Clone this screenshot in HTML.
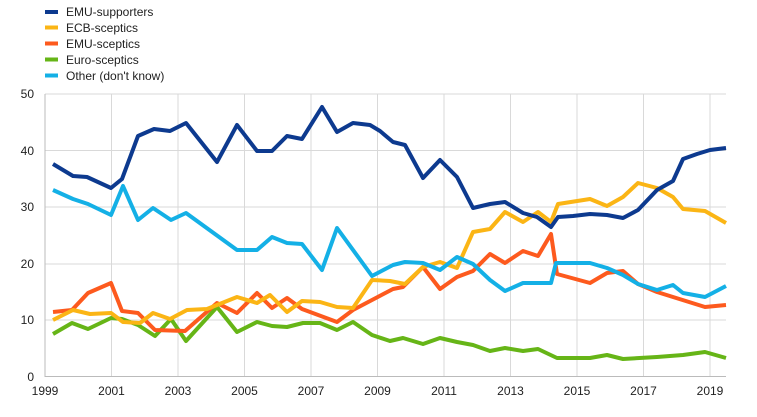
<!DOCTYPE html>
<html><head><meta charset="utf-8"><style>
html,body{margin:0;padding:0;background:#fff;width:757px;height:417px;overflow:hidden}
svg{display:block;font-family:"Liberation Sans",Arial,sans-serif}
</style></head><body>
<svg width="757" height="417" viewBox="0 0 757 417">
<g stroke="#d9d9d9" stroke-width="1">
<line x1="45" y1="94" x2="726" y2="94"/><line x1="45" y1="150.5" x2="726" y2="150.5"/><line x1="45" y1="207" x2="726" y2="207"/><line x1="45" y1="264" x2="726" y2="264"/><line x1="45" y1="320" x2="726" y2="320"/>
<line x1="111.5" y1="94" x2="111.5" y2="376"/><line x1="178" y1="94" x2="178" y2="376"/><line x1="244.5" y1="94" x2="244.5" y2="376"/><line x1="311" y1="94" x2="311" y2="376"/><line x1="377.5" y1="94" x2="377.5" y2="376"/><line x1="444" y1="94" x2="444" y2="376"/><line x1="510.5" y1="94" x2="510.5" y2="376"/><line x1="577" y1="94" x2="577" y2="376"/><line x1="643.5" y1="94" x2="643.5" y2="376"/><line x1="710" y1="94" x2="710" y2="376"/>
</g>
<line x1="45" y1="94" x2="45" y2="377" stroke="#bbb"/><line x1="45" y1="376.5" x2="726" y2="376.5" stroke="#bbb"/>
<g font-size="12" fill="#222" text-anchor="end">
<text x="34" y="98">50</text><text x="34" y="155">40</text><text x="34" y="211">30</text><text x="34" y="268">20</text><text x="34" y="324">10</text><text x="34" y="381">0</text>
</g>
<g font-size="12" fill="#222" text-anchor="middle">
<text x="45" y="395">1999</text><text x="111.5" y="395">2001</text><text x="178" y="395">2003</text><text x="244.5" y="395">2005</text><text x="311" y="395">2007</text><text x="377.5" y="395">2009</text><text x="444" y="395">2011</text><text x="510.5" y="395">2013</text><text x="577" y="395">2015</text><text x="643.5" y="395">2017</text><text x="710" y="395">2019</text>
</g>
<g fill="none" stroke-width="4" stroke-linejoin="round">
<polyline stroke="#66b517" points="53,334 72,323 88,329 111,318 122,319 138,325 155,336 171,319 186,341 217,307 237,332 257,322 272,326 287,327 303,323 320,323 337,330 353,322 372,335 390,341 403,338 423,344 440,338 457,342 473,345 490,351 505,348 523,351 538,349 557,358 590,358 607,355 623,359 657,357 683,355 705,352 726,358"/>
<polyline stroke="#fd5a1e" points="53,312 72,310 88,293 111,283 122,311 138,313 155,330 185,331 217,303 237,313 257,293 272,308 287,298 302,309 337,322 353,310 393,289 403,287 423,267 440,289 457,277 473,271 490,254 505,263 523,251 538,256 551,234 557,274 590,283 607,273 623,271 638,284 657,292 673,297 705,307 726,305"/>
<polyline stroke="#fbb515" points="53,320 73,310 90,314 111,313 123,322 140,323 153,313 170,319 187,310 207,309 217,305 237,297 257,303 270,295 287,312 302,301 320,302 337,307 353,308 372,280 390,281 405,284 423,267 440,262 457,268 473,232 490,229 505,212 523,222 538,212 551,222 558,204 590,199 607,206 623,197 638,183 657,188 673,197 683,209 705,211 726,223"/>
<polyline stroke="#14b0e6" points="53,190 73,199 88,204 111,215 123,186 138,220 153,208 171,220 186,213 237,250 257,250 272,237 287,243 302,244 322,270 337,228 372,276 393,265 405,262 423,263 440,270 457,257 473,264 490,280 505,291 523,283 537,283 551,283 556,263 573,263 590,263 607,268 623,275 638,284 657,290 673,285 683,293 705,297 726,286"/>
<polyline stroke="#0d3a8f" points="53,164 73,176 87,177 111,188 122,179 138,136 154,129 170,131 186,123 217,162 237,125 257,151 272,151 287,136 302,139 322,107 337,132 353,123 370,125 380,131 393,142 405,145 423,178 440,160 457,177 473,208 490,204 505,202 523,213 537,217 551,227 558,217 573,216 590,214 607,215 623,218 638,210 657,190 673,181 683,159 697,154 710,150 726,148"/>
</g>
<g stroke-width="4">
<line x1="45" y1="12" x2="58" y2="12" stroke="#0d3a8f"/><line x1="45" y1="27.5" x2="58" y2="27.5" stroke="#fbb515"/><line x1="45" y1="43.5" x2="58" y2="43.5" stroke="#fd5a1e"/><line x1="45" y1="59.5" x2="58" y2="59.5" stroke="#66b517"/><line x1="45" y1="75.5" x2="58" y2="75.5" stroke="#14b0e6"/>
</g>
<g font-size="12" fill="#222">
<text x="66" y="16">EMU-supporters</text><text x="66" y="32">ECB-sceptics</text><text x="66" y="48">EMU-sceptics</text><text x="66" y="64">Euro-sceptics</text><text x="66" y="80">Other (don't know)</text>
</g>
</svg>
</body></html>
